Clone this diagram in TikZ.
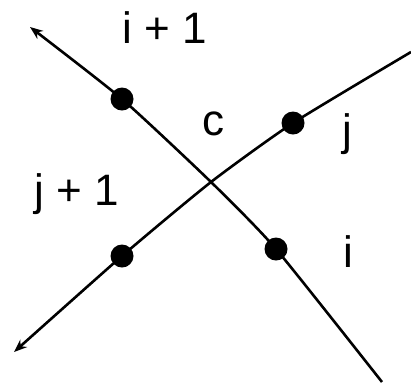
\documentclass[tikz,border=0pt]{standalone}
\usepackage{fontspec}
\setmainfont{Liberation Sans}
\usetikzlibrary{arrows.meta}

\begin{document}
\begin{tikzpicture}[
    x=1pt, y=-1pt,
    every node/.style={font=\fontsize{44}{48}\selectfont},
    dot/.style={circle, fill=black, inner sep=0pt, minimum size=23pt},
    strand/.style={line width=2.6pt, -{Stealth[length=13pt, width=10pt]}},
    lab/.style={anchor=base, inner sep=0pt}
]
    \useasboundingbox (0,0) rectangle (411,384);

    % Ends of the strands and the crossing
    \coordinate (iend) at (382,382);
    \coordinate (itip) at (30,27);
    \coordinate (jend) at (411,52);
    \coordinate (jtip) at (14,352);
    \coordinate (cross) at (211,182);

    % Dots on the two strands
    \node[dot] (ip) at (122,99) {};
    \node[dot] (i) at (276,249) {};
    \node[dot] (j) at (293,123) {};
    \node[dot] (jp) at (122,256) {};

    % Strand i
    \draw[strand] plot[smooth, tension=0.35] coordinates {(iend) (i.center) (cross) (ip.center) (itip)};

    % Strand j
    \draw[strand] plot[smooth, tension=0.35] coordinates {(jend) (j.center) (cross) (jp.center) (jtip)};

    % Labels
    \node[lab] (lip) at (165,43) {i + 1};
    \node[lab] (lc) at (213,135) {c};
    \node[lab] (lj) at (347,145) {j};
    \node[lab] (ljp) at (77,205) {j + 1};
    \node[lab] (li) at (348,267) {i};
\end{tikzpicture}
\end{document}
